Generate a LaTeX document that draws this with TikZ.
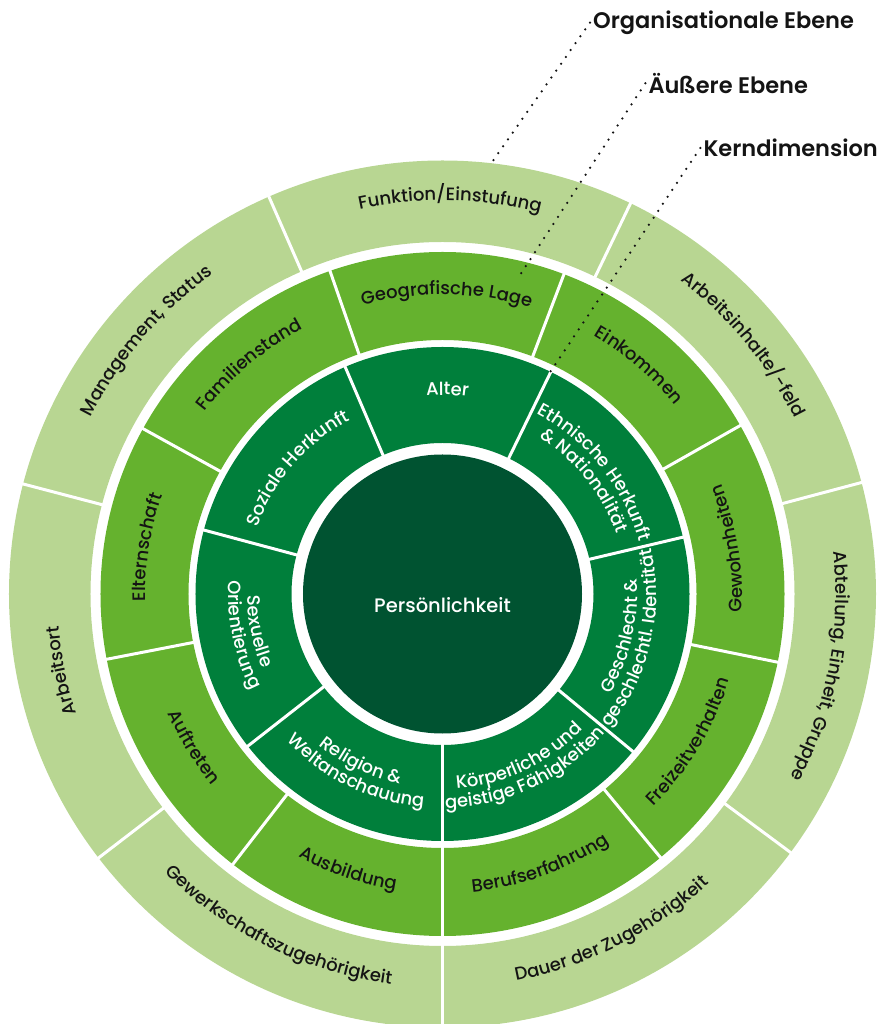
\documentclass[tikz,border=0pt]{standalone}
\usepackage{fontspec}
\setmainfont{Poppins Medium}
\newfontfamily\headfont{Poppins SemiBold}
\usetikzlibrary{decorations.text}

\definecolor{orgcol}{RGB}{184,214,146}
\definecolor{outercol}{RGB}{101,178,46}
\definecolor{kerncol}{RGB}{0,127,59}
\definecolor{corecol}{RGB}{0,83,49}
\definecolor{labelcol}{RGB}{20,20,20}

\newcommand{\ringfont}{\fontsize{18}{21}\selectfont}

% ring piece: colour, start angle, end angle, inner radius, outer radius
\newcommand{\ringpart}[5]{%
  \fill[#1] (#2:#4pt) arc[start angle=#2, end angle=#3, radius=#4pt]
    -- (#3:#5pt) arc[start angle=#3, end angle=#2, radius=#5pt] -- cycle;}

% text on an arc: [colour] centre angle, radius, half span, text
\newcommand{\cwtext}[5][labelcol]{%
  \path[decorate, decoration={text along path, text align=center,
    text={|\ringfont\color{#1}|#5}}]
    (#2+#4:#3pt) arc[start angle=#2+#4, end angle=#2-#4, radius=#3pt];}
\newcommand{\ccwtext}[5][labelcol]{%
  \path[decorate, decoration={text along path, text align=center,
    text={|\ringfont\color{#1}|#5}}]
    (#2-#4:#3pt) arc[start angle=#2-#4, end angle=#2+#4, radius=#3pt];}

\begin{document}
\begin{tikzpicture}[x=1pt, y=1pt,
  sepline/.style={white, line width=3pt},
  leader/.style={labelcol, line width=2.5pt, line cap=round, dash pattern=on 0pt off 8.4pt},
  headlabel/.style={font=\fontsize{22.5}{26}\headfont, text=labelcol, anchor=base west, inner sep=3pt}]

\useasboundingbox (-442.5,-430) rectangle (437.5,594);

% Organisationale Ebene
\ringpart{orgcol}{-90}{270}{352}{433.5}
\draw[sepline] (-90:350pt) -- (-90:436pt);
\draw[sepline] (-36.6:350pt) -- (-36.6:436pt);
\draw[sepline] (14.9:350pt) -- (14.9:436pt);
\draw[sepline] (64.3:350pt) -- (64.3:436pt);
\draw[sepline] (113.6:350pt) -- (113.6:436pt);
\draw[sepline] (165.3:350pt) -- (165.3:436pt);
\draw[sepline] (217.5:350pt) -- (217.5:436pt);

% Aeussere Ebene
\ringpart{outercol}{-90}{270}{254}{342}
\draw[sepline] (-90:252pt) -- (-90:344pt);
\draw[sepline] (-50.4:252pt) -- (-50.4:344pt);
\draw[sepline] (-11.5:252pt) -- (-11.5:344pt);
\draw[sepline] (29.5:252pt) -- (29.5:344pt);
\draw[sepline] (69.2:252pt) -- (69.2:344pt);
\draw[sepline] (109.2:252pt) -- (109.2:344pt);
\draw[sepline] (151.1:252pt) -- (151.1:344pt);
\draw[sepline] (191:252pt) -- (191:344pt);
\draw[sepline] (232.2:252pt) -- (232.2:344pt);

% Kerndimension
\ringpart{kerncol}{-90}{270}{151}{247}
\draw[sepline] (-90:149pt) -- (-90:249pt);
\draw[sepline] (-39.6:149pt) -- (-39.6:249pt);
\draw[sepline] (13.3:149pt) -- (13.3:249pt);
\draw[sepline] (64:149pt) -- (64:249pt);
\draw[sepline] (113.2:149pt) -- (113.2:249pt);
\draw[sepline] (165:149pt) -- (165:249pt);
\draw[sepline] (218:149pt) -- (218:249pt);

% Centre
\fill[corecol] (0,0) circle[radius=139.5pt];
\node[white, font=\fontsize{19.5}{23}\selectfont] (core) at (0,-11) {Persönlichkeit};

% Labels, outer ring
\cwtext{88.9}{393.5}{40}{Funktion/Einstufung}
\cwtext{39.6}{393.5}{40}{Arbeitsinhalte/-feld}
\cwtext{-10.85}{393.5}{40}{Abteilung, Einheit, Gruppe}
\ccwtext{-63.3}{393.5}{40}{Dauer der Zugehörigkeit}
\ccwtext{243.75}{393.5}{40}{Gewerkschaftszugehörigkeit}
\cwtext{191.4}{385}{40}{Arbeitsort}
\cwtext{139.45}{393.5}{40}{Management, Status}

% Labels, middle ring
\cwtext{89.2}{299.5}{40}{Geografische Lage}
\cwtext{49.35}{299.5}{40}{Einkommen}
\ccwtext{9}{299.5}{40}{Gewohnheiten}
\ccwtext{-30.95}{299.5}{40}{Freizeitverhalten}
\ccwtext{-70.2}{299.5}{40}{Berufserfahrung}
\ccwtext{251.1}{299.5}{40}{Ausbildung}
\ccwtext{211.6}{299.5}{40}{Auftreten}
\cwtext{171.05}{297}{40}{Elternschaft}
\cwtext{130.15}{299.5}{40}{Familienstand}

% Labels, inner ring
\cwtext[white]{88.6}{199}{45}{Alter}
\cwtext[white]{38.65}{203}{45}{Ethnische Herkunft}
\cwtext[white]{38.65}{184}{45}{{\&} Nationalität}
\ccwtext[white]{-13.15}{195}{45}{Geschlecht {\&}}
\ccwtext[white]{-13.15}{214}{45}{geschlechtl. Identität}
\ccwtext[white]{-64.8}{195}{45}{Körperliche und}
\ccwtext[white]{-64.8}{214}{45}{geistige Fähigkeiten}
\ccwtext[white]{244}{195}{45}{Religion {\&}}
\ccwtext[white]{244}{214}{45}{Weltanschauung}
\ccwtext[white]{191.5}{195}{45}{Sexuelle}
\ccwtext[white]{191.5}{214}{45}{Orientierung}
\cwtext[white]{139.1}{197}{45}{Soziale Herkunft}

% Level names with leaders
\node[headlabel] (orgtext) at (147.5,565.7) {Organisationale Ebene};
\node[headlabel] (outertext) at (202.8,500.7) {Äußere Ebene};
\node[headlabel] (kerntext) at (257.8,437.3) {Kerndimension};
\coordinate (orgend) at (47.5,429);
\coordinate (outerend) at (78.2,320);
\coordinate (kernend) at (107.5,221.7);
\draw[leader] (orgtext.west) -- (orgend);
\draw[leader] (outertext.west) -- (outerend);
\draw[leader] (kerntext.west) -- (kernend);

\end{tikzpicture}
\end{document}
